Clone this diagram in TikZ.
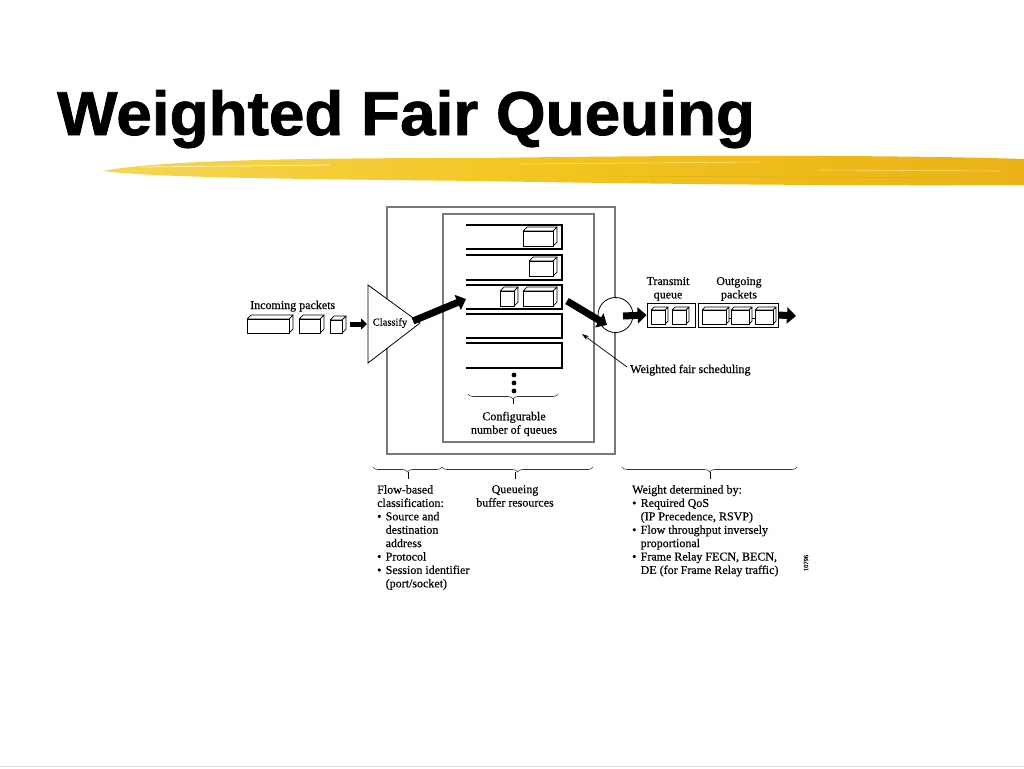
\documentclass[tikz,border=0pt]{standalone}
\usepackage{fontspec}
\usepackage{graphicx}
\setmainfont{Liberation Serif}[FakeBold=0.35]
\newfontfamily\titlefont{Liberation Sans}[BoldFeatures={FakeBold=1.3}]
\usetikzlibrary{arrows.meta,decorations.pathreplacing,shapes.geometric}
\definecolor{brushA}{RGB}{246,214,82}
\definecolor{brushB}{RGB}{242,196,30}
\definecolor{brushC}{RGB}{234,178,24}
\definecolor{boxgray}{RGB}{120,120,120}
\newcommand\mypkt[5]{%
  \draw[pktline] (#1,#2) -- ++(#5,-#5) -- ++(#3,0) -- ++(-#5,#5) -- cycle;
  \draw[pktline] (#1+#3,#2) -- ++(#5,-#5) -- ++(0,#4) -- ++(-#5,#5) -- cycle;
  \draw[pktline] (#1,#2) rectangle ++(#3,#4);}
\newcommand\myqueue[2]{\draw[qline] (466,#1) -- (562,#1) -- (562,#2) -- (466,#2);}
\newcommand\bul{\makebox[8.5pt][l]{\textbullet}}
\newcommand\ind{\hspace*{8.5pt}}
\begin{document}
\begin{tikzpicture}[x=1pt,y=-1pt,
  pktline/.style={line width=0.7pt, fill=white, line join=round},
  qline/.style={line width=2.4pt, line join=miter},
  graybox/.style={draw=boxgray, line width=1.1pt},
  bigarrow/.style={line width=7pt, -{Triangle[length=9pt,width=16pt]}},
  smallarrow/.style={line width=5pt, -{Triangle[length=6pt,width=11pt]}},
  thinarrow/.style={line width=0.7pt, -{Stealth[length=7pt,width=4.5pt]}},
  txt/.style={font=\fontsize{12}{13.4}\selectfont, inner sep=0pt},
  bracestyle/.style={draw=black!80, line width=0.6pt, decorate, decoration={brace,mirror,amplitude=5pt}},
]
\useasboundingbox (0,0) rectangle (1024,768);
\fill[white] (0,0) rectangle (1024,768);

% title
\node[anchor=base west, inner sep=0pt] (title) at (57,135)
  {\titlefont\bfseries\fontsize{62}{64}\selectfont\scalebox{1.03}[1]{Weighted Fair Queuing}};

% brush stroke
\shade[left color=brushA, right color=brushC, middle color=brushB]
  (103,171) .. controls (160,160) and (300,158) .. (480,158)
  .. controls (700,155) and (900,155) .. (1024,159) -- (1024,185)
  .. controls (850,186) and (650,184) .. (480,181)
  .. controls (300,179) and (160,178) .. (103,171) -- cycle;
\draw[white!60!brushA, line width=0.8pt] (140,167) -- (330,165);
\draw[white!50!brushB, line width=0.6pt] (520,164) -- (760,162);
\draw[brushC!90!black, line width=0.8pt, opacity=0.4] (600,176) -- (980,178);
\draw[white!40!brushB, line width=0.6pt] (820,170) -- (1000,171);

% outer and inner boxes
\draw[graybox] (387,207) rectangle (615,454);
\draw[graybox] (443,214) rectangle (594,442);

% queues
\myqueue{225}{249}
\myqueue{255}{280}
\myqueue{285}{309}
\myqueue{314}{338}
\myqueue{343}{368}
\coordinate (q3w) at (466,299);
\coordinate (q3e) at (567,301);

% packets in queues
\mypkt{523}{231}{30}{15}{4}
\mypkt{529}{261}{24}{15}{4}
\mypkt{500}{291}{14}{15}{4}
\mypkt{523}{291}{30}{15}{4}

% dots
\foreach \yy [count=\i] in {375,383,391} \fill (514,\yy) circle (2.4pt) coordinate (dot\i);
\draw[bracestyle] (468,394) -- (558,394);
\draw[line width=0.6pt] (513,399) -- (513,404);
\node[txt, align=center] (config) at (514,424) {Configurable\\number of queues};

% incoming packets
\node[txt, anchor=base west] (inlab) at (250,309) {Incoming packets};
\mypkt{247}{319}{42}{14}{4}
\mypkt{299}{319}{21}{14}{4}
\mypkt{330}{320}{12}{13}{4}
\coordinate (inS) at (350,324);
\coordinate (inE) at (367,324);
\draw[smallarrow] (inS) -- (inE);

% classify triangle
\draw[line width=0.8pt, fill=white, line join=miter] (368,285) -- (420,323) -- (368,363) -- cycle;
\node[txt, font=\fontsize{10.5}{12}\selectfont] (classify) at (390,323) {Classify};
\coordinate (tritip) at (413,321);
\draw[bigarrow] (tritip) -- (q3w);

% scheduler circle
\node[draw, circle, fill=white, line width=0.8pt, minimum size=35pt, inner sep=0pt] (sched) at (615.5,315) {};
\coordinate (schedin) at (607,325);
\draw[bigarrow] (q3e) -- (schedin);

% transmit and outgoing
\node[draw, line width=0.8pt, minimum width=48pt, minimum height=24pt, inner sep=0pt] (tq) at (671,315) {};
\node[draw, line width=0.8pt, minimum width=80pt, minimum height=24pt, inner sep=0pt] (og) at (738,315) {};
\mypkt{651}{310}{14}{14}{3}
\mypkt{672}{310}{14}{14}{3}
\mypkt{702}{310}{24}{14}{3}
\mypkt{731}{310}{18}{14}{3}
\mypkt{755}{310}{18}{14}{3}
\draw[line width=0.6pt] (729,318) -- (731,318) (752,318) -- (755,318);
\coordinate (schedout) at (623,316);
\draw[bigarrow] (schedout) -- (tq.west);
\coordinate (outend) at (796,316);
\draw[bigarrow] (og.east) -- (outend);
\node[txt, align=center] (tqlab) at (668,289) {Transmit\\queue};
\node[txt, align=center] (oglab) at (739,289) {Outgoing\\packets};

% weighted fair scheduling
\node[txt, anchor=base west] (wfs) at (630,373) {Weighted fair scheduling};
\coordinate (wfsA) at (627,367);
\coordinate (wfsB) at (582,334);
\draw[thinarrow] (wfsA) -- (wfsB);

% bottom braces
\draw[bracestyle] (373,467) -- (442,467);
\draw[bracestyle] (442,467) -- (593,467);
\draw[bracestyle] (622,467) -- (797,467);
\draw[line width=0.6pt] (408,472) -- (408,479) (515,472) -- (515,479) (710,472) -- (710,479);

\node[txt, align=left, anchor=north west] (flow) at (377,485)
  {Flow-based\\classification:\\\bul Source and\\\ind destination\\\ind address\\\bul Protocol\\\bul Session identifier\\\ind (port/socket)};
\node[txt, align=center, anchor=north] (qbuf) at (515,485)
  {Queueing\\buffer resources};
\node[txt, align=left, anchor=north west] (weight) at (632,485)
  {Weight determined by:\\\bul Required QoS\\\ind (IP Precedence, RSVP)\\\bul Flow throughput inversely\\\ind proportional\\\bul Frame Relay FECN, BECN,\\\ind DE (for Frame Relay traffic)};
\node[rotate=90, font=\fontsize{6.5}{7}\selectfont, inner sep=0pt] (code) at (806,563) {10796};

\draw[black!12, line width=0.8pt] (0,766) -- (1024,766);
\end{tikzpicture}
\end{document}
